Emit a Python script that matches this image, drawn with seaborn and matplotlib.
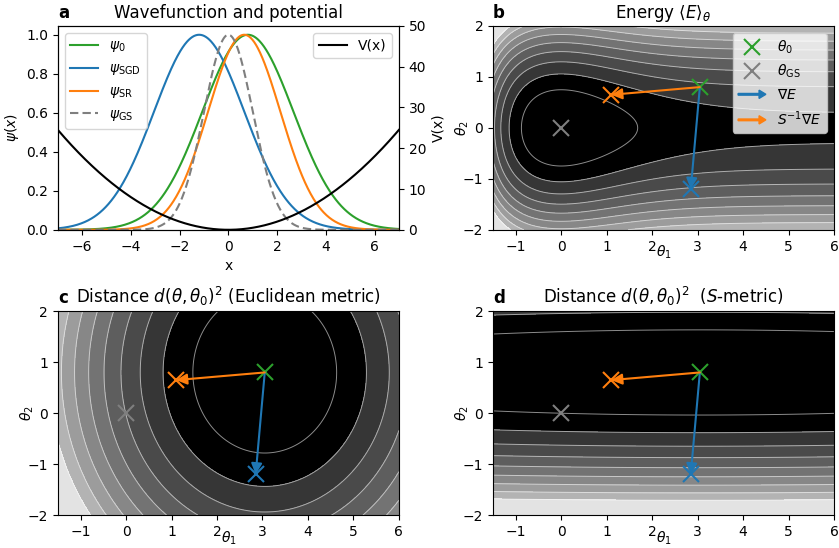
import numpy as np
import pandas as pd
import matplotlib
matplotlib.use("Agg")
import matplotlib.pyplot as plt
import matplotlib.patches as mpatches
import matplotlib.lines as mlines
from matplotlib.legend_handler import HandlerPatch
import seaborn as sns

# Variational parameters (theta_1 controls the width, theta_2 the centre)
theta_0 = [3.05, 0.80]
theta_sgd = [2.85, -1.20]
theta_sr = [1.10, 0.65]
theta_gs = [0.0, 0.0]

# Width of the Gaussian ansatz as a function of theta_1
WIDTH_AMP = 0.95
WIDTH_RATE = 0.51

# Contour levels of the three landscapes
energy_levels = [0.50, 0.78, 1.06, 1.34, 1.62, 1.90, 2.18, 2.46, 2.74, 3.02]
euclid_levels = [0.0, 2.5, 5.0, 7.5, 10.0, 12.5, 15.0, 17.5, 20.0, 22.5]
smetric_levels = [0.0, 0.1, 0.2, 0.3, 0.4, 0.5, 0.6, 0.7, 0.8, 0.9]
band_grays = [0.0, 0.0, 0.21, 0.29, 0.37, 0.45, 0.53, 0.61, 0.70, 0.89]


def sigma(t1):
    return 1.0 + WIDTH_AMP * np.tanh(WIDTH_RATE * t1)


def dsigma(t1):
    return WIDTH_AMP * WIDTH_RATE / np.cosh(WIDTH_RATE * t1) ** 2


def psi(x, t1, t2):
    return np.exp(-(x - t2) ** 2 / (2.0 * sigma(t1) ** 2))


def energy(t1, t2):
    s2 = sigma(t1) ** 2
    return 0.25 / s2 + 0.25 * s2 + 0.5 * t2 ** 2


plt.rcParams.update({"font.size": 10, "axes.titlesize": 12})

fig = plt.figure(figsize=(8.39, 5.48), dpi=100)
gs = fig.add_gridspec(2, 2, left=0.069, right=0.994, top=0.9526, bottom=0.060,
                      wspace=0.276, hspace=0.40)
ax_a = fig.add_subplot(gs[0, 0])
ax_b = fig.add_subplot(gs[0, 1])
ax_c = fig.add_subplot(gs[1, 0])
ax_d = fig.add_subplot(gs[1, 1])

# ---- a: wavefunctions and harmonic potential
x = np.linspace(-7, 7, 600)
curves = pd.DataFrame({
    "x": np.tile(x, 4),
    "psi": np.concatenate([psi(x, *theta_0), psi(x, *theta_sgd),
                           psi(x, *theta_sr), psi(x, *theta_gs)]),
    "state": np.repeat([r"$\psi_0$", r"$\psi_{\mathrm{SGD}}$",
                        r"$\psi_{\mathrm{SR}}$", r"$\psi_{\mathrm{GS}}$"], len(x)),
})
palette = {r"$\psi_0$": "tab:green", r"$\psi_{\mathrm{SGD}}$": "tab:blue",
           r"$\psi_{\mathrm{SR}}$": "tab:orange", r"$\psi_{\mathrm{GS}}$": "tab:gray"}
dashes = {r"$\psi_0$": "", r"$\psi_{\mathrm{SGD}}$": "",
          r"$\psi_{\mathrm{SR}}$": "", r"$\psi_{\mathrm{GS}}$": (4, 2)}
sns.lineplot(data=curves, x="x", y="psi", hue="state", style="state",
             palette=palette, dashes=dashes, linewidth=1.5, ax=ax_a)
ax_a.legend(loc="upper left")
ax_a.set_xlim(-7, 7)
ax_a.set_ylim(0, 1.045)
ax_a.set_xticks([-6, -4, -2, 0, 2, 4, 6])
ax_a.set_xlabel("x")
ax_a.set_ylabel(r"$\psi(x)$")
ax_a.set_title("Wavefunction and potential")
ax_a.set_title("a", loc="left", fontweight="bold")

ax_v = ax_a.twinx()
sns.lineplot(x=x, y=0.5 * x ** 2, color="black", linewidth=1.5, ax=ax_v, label="V(x)")
ax_v.set_ylim(0, 50)
ax_v.set_ylabel("V(x)")
ax_v.legend(loc="upper right")

# ---- parameter-space landscapes
t1 = np.linspace(-1.5, 6, 500)
t2 = np.linspace(-2, 2, 400)
T1, T2 = np.meshgrid(t1, t2)

E = energy(T1, T2)
D_euclid = (T1 - theta_0[0]) ** 2 + (T2 - theta_0[1]) ** 2
s0 = sigma(theta_0[0])
S11 = dsigma(theta_0[0]) ** 2 / (2 * s0 ** 2)
S22 = 1.0 / (2 * s0 ** 2)
D_s = S11 * (T1 - theta_0[0]) ** 2 + S22 * (T2 - theta_0[1]) ** 2

fills = [(ax_b, E, energy_levels, r"Energy $\langle E\rangle_\theta$", "b"),
         (ax_c, D_euclid, euclid_levels, r"Distance $d(\theta,\theta_0)^2$ (Euclidean metric)", "c"),
         (ax_d, D_s, smetric_levels, r"Distance $d(\theta,\theta_0)^2$  ($S$-metric)", "d")]

band_colors = [(g, g, g) for g in band_grays]

for ax, Z, lev, title, tag in fills:
    ax.contourf(T1, T2, Z, levels=list(lev) + [1e9], colors=band_colors)
    ax.contour(T1, T2, Z, levels=lev[1:], colors="white", linewidths=0.7, alpha=0.55)
    for start, end, col in [(theta_0, theta_sgd, "tab:blue"), (theta_0, theta_sr, "tab:orange")]:
        ax.annotate("", xy=end, xytext=start,
                    arrowprops=dict(arrowstyle="-|>", color=col, lw=1.5,
                                    mutation_scale=16, shrinkA=0, shrinkB=0))
    pts = pd.DataFrame({"t1": [theta_sgd[0], theta_sr[0], theta_gs[0], theta_0[0]],
                        "t2": [theta_sgd[1], theta_sr[1], theta_gs[1], theta_0[1]]})
    for (_, row), col in zip(pts.iterrows(), ["tab:blue", "tab:orange", "tab:gray", "tab:green"]):
        ax.plot(row["t1"], row["t2"], "x", color=col, ms=12, mew=1.5)
    ax.set_xlim(-1.5, 6)
    ax.set_ylim(-2, 2)
    ax.set_xticks(range(-1, 7))
    ax.set_yticks([-2, -1, 0, 1, 2])
    ax.set_xlabel(r"$\theta_1$", labelpad=-7)
    ax.set_ylabel(r"$\theta_2$", labelpad=-6)
    ax.set_title(title)
    ax.set_title(tag, loc="left", fontweight="bold")


def arrow_handle(legend, orig_handle, xdescent, ydescent, width, height, fontsize):
    return mpatches.FancyArrow(0, 0.5 * height, width, 0, width=1.2,
                               length_includes_head=True,
                               head_width=0.85 * height, head_length=0.7 * height)


h_t0 = mlines.Line2D([], [], color="tab:green", marker="x", ls="", ms=12, mew=1.5,
                     label=r"$\theta_0$")
h_gs = mlines.Line2D([], [], color="tab:gray", marker="x", ls="", ms=12, mew=1.5,
                     label=r"$\theta_{\mathrm{GS}}$")
h_grad = mpatches.Patch(color="tab:blue", label=r"$\nabla E$")
h_nat = mpatches.Patch(color="tab:orange", label=r"$S^{-1}\nabla E$")
ax_b.legend(handles=[h_t0, h_gs, h_grad, h_nat], loc="upper right",
            handler_map={h_grad: HandlerPatch(patch_func=arrow_handle),
                         h_nat: HandlerPatch(patch_func=arrow_handle)})

fig.savefig("out.png", dpi=100)
